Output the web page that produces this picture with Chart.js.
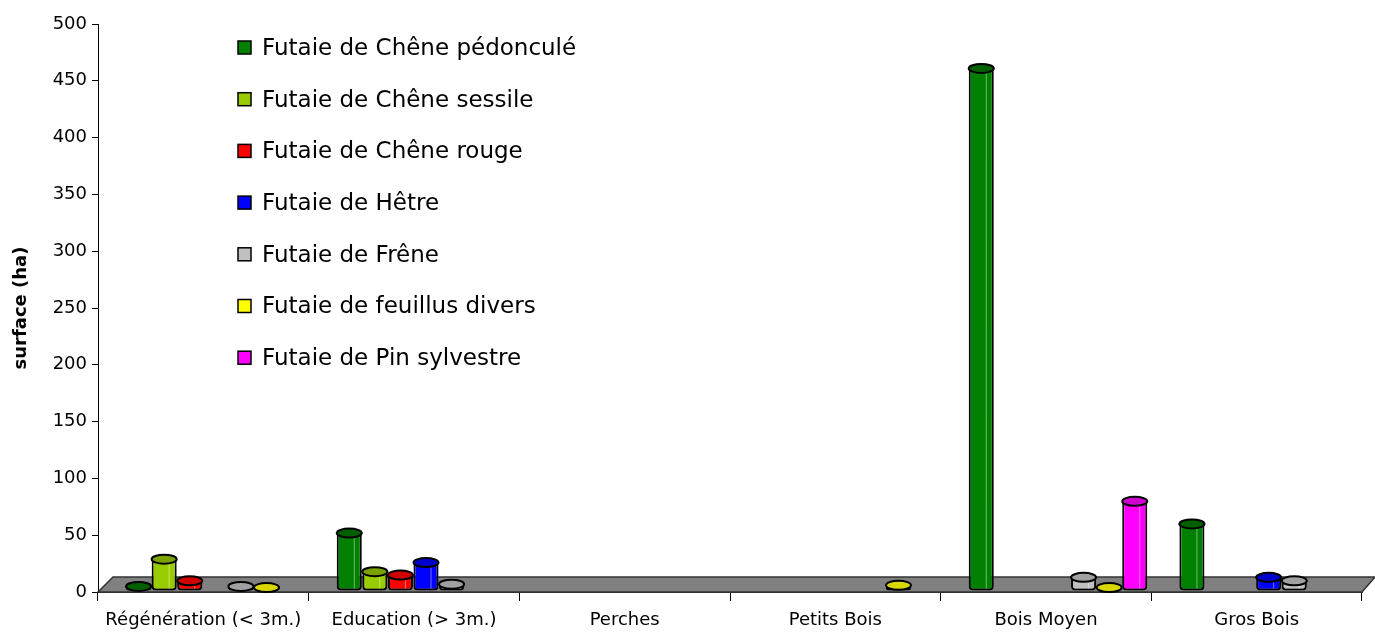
<!DOCTYPE html>
<html>
<head>
<meta charset="utf-8">
<title>Surface par stade</title>
<script src="https://cdn.jsdelivr.net/npm/chart.js@4.4.1/dist/chart.umd.min.js"></script>
<style>
  body { margin: 0; background: #fff; }
  canvas { display: block; }
</style>
</head>
<body>
<canvas id="chart" width="1375" height="633"></canvas>
<script>
const categories = ['Régénération (< 3m.)', 'Education (> 3m.)', 'Perches', 'Petits Bois', 'Bois Moyen', 'Gros Bois'];
const yTicks = [0, 50, 100, 150, 200, 250, 300, 350, 400, 450, 500];

const chenePedoncule = [4, 51, 0, 0, 460, 59];
const cheneSessile = [28, 17, 0, 0, 0, 0];
const cheneRouge = [9, 14, 0, 0, 0, 0];
const hetre = [0, 25, 0, 0, 0, 12];
const frene = [4, 6, 0, 0, 12, 9];
const feuillusDivers = [3, 0, 0, 5, 3, 0];
const pinSylvestre = [0, 0, 0, 0, 79, 0];

const seriesNames = ['Futaie de Chêne pédonculé', 'Futaie de Chêne sessile', 'Futaie de Chêne rouge',
  'Futaie de Hêtre', 'Futaie de Frêne', 'Futaie de feuillus divers', 'Futaie de Pin sylvestre'];
const seriesData = [chenePedoncule, cheneSessile, cheneRouge, hetre, frene, feuillusDivers, pinSylvestre];
const seriesColors = ['#008000', '#99cc00', '#ff0000', '#0000ff', '#c0c0c0', '#ffff00', '#ff00ff'];
const capColors = ['#006000', '#7aa300', '#d00000', '#0000cc', '#a0a0a0', '#d8d800', '#d000d0'];

const FONT = '"DejaVu Sans", "Liberation Sans", Arial, sans-serif';
const DEPTH_X = 12; // bars stand in the middle of the floor depth

// grey 3D floor, then shift the bars back into it
const floorPlugin = {
  id: 'floor',
  beforeDatasetsDraw(chart) {
    const { ctx, chartArea, scales } = chart;
    const y0 = scales.y.getPixelForValue(0);
    ctx.save();
    ctx.beginPath();
    ctx.moveTo(chartArea.left, y0);
    ctx.lineTo(chartArea.right, y0);
    ctx.lineTo(chartArea.right + 13, y0 - 15);
    ctx.lineTo(chartArea.left + 15, y0 - 15);
    ctx.closePath();
    ctx.fillStyle = '#808080';
    ctx.fill();
    ctx.strokeStyle = '#333';
    ctx.lineWidth = 1.5;
    ctx.stroke();
    ctx.restore();
    ctx.save();
    ctx.translate(DEPTH_X, -1);
  },
  afterDatasetsDraw(chart) {
    const { ctx } = chart;
    // elliptic caps so the bars look like cylinders
    chart.data.datasets.forEach((ds, i) => {
      const meta = chart.getDatasetMeta(i);
      meta.data.forEach((bar, j) => {
        if (!ds.data[j]) return;
        const w = bar.width;
        ctx.save();
        ctx.strokeStyle = 'rgba(255,255,255,0.45)';
        ctx.lineWidth = 1;
        ctx.beginPath();
        ctx.moveTo(bar.x + w * 0.2, bar.y + 4);
        ctx.lineTo(bar.x + w * 0.2, bar.base - 2);
        ctx.stroke();
        ctx.beginPath();
        ctx.ellipse(bar.x, bar.y, w / 2, 4.5, 0, 0, Math.PI * 2);
        ctx.fillStyle = capColors[i];
        ctx.fill();
        ctx.strokeStyle = '#000';
        ctx.lineWidth = 2;
        ctx.stroke();
        ctx.restore();
      });
    });
    ctx.restore();
  }
};

// legend inside the plot, as in the original
const legendPlugin = {
  id: 'insideLegend',
  afterDraw(chart) {
    const { ctx } = chart;
    ctx.save();
    ctx.font = '23px ' + FONT;
    ctx.textBaseline = 'middle';
    chart.data.datasets.forEach((ds, i) => {
      const y = 48 + i * 51.7;
      ctx.fillStyle = ds.backgroundColor;
      ctx.fillRect(238, y - 7, 13, 13);
      ctx.strokeStyle = '#000';
      ctx.lineWidth = 1.5;
      ctx.strokeRect(238, y - 7, 13, 13);
      ctx.fillStyle = '#000';
      ctx.fillText(ds.label, 262, y + 1);
    });
    ctx.restore();
  }
};

new Chart(document.getElementById('chart'), {
  type: 'bar',
  data: {
    labels: categories,
    datasets: seriesNames.map((name, i) => ({
      label: name,
      data: seriesData[i],
      backgroundColor: seriesColors[i],
      borderColor: '#000',
      borderWidth: 2,
      borderSkipped: false,
      borderRadius: { bottomLeft: 4, bottomRight: 4 },
      categoryPercentage: 0.85,
      barPercentage: 0.98
    }))
  },
  options: {
    responsive: false,
    devicePixelRatio: 1,
    animation: false,
    layout: { padding: { top: 24, right: 13, bottom: 0, left: 0 } },
    plugins: {
      legend: { display: false },
      tooltip: { enabled: false }
    },
    scales: {
      x: {
        afterFit: s => { s.height = 41; },
        grid: { drawOnChartArea: false, drawTicks: true, tickLength: 9, color: '#000', offset: true },
        border: { display: true, color: '#333', width: 1 },
        ticks: { color: '#000', font: { family: FONT, size: 18 }, padding: 9, maxRotation: 0, autoSkip: false }
      },
      y: {
        min: 0,
        max: 500,
        afterFit: s => { s.width = 98; },
        afterBuildTicks: s => { s.ticks = yTicks.map(v => ({ value: v })); },
        grid: { drawOnChartArea: false, drawTicks: true, tickLength: 6, color: '#000' },
        border: { display: true, color: '#000', width: 1 },
        ticks: { color: '#000', font: { family: FONT, size: 18 }, padding: 5 },
        title: {
          display: true,
          text: 'surface (ha)',
          color: '#000',
          font: { family: FONT, size: 18, weight: 'bold' },
          padding: { top: 11, bottom: 0 }
        }
      }
    }
  },
  plugins: [floorPlugin, legendPlugin]
});
</script>
</body>
</html>
